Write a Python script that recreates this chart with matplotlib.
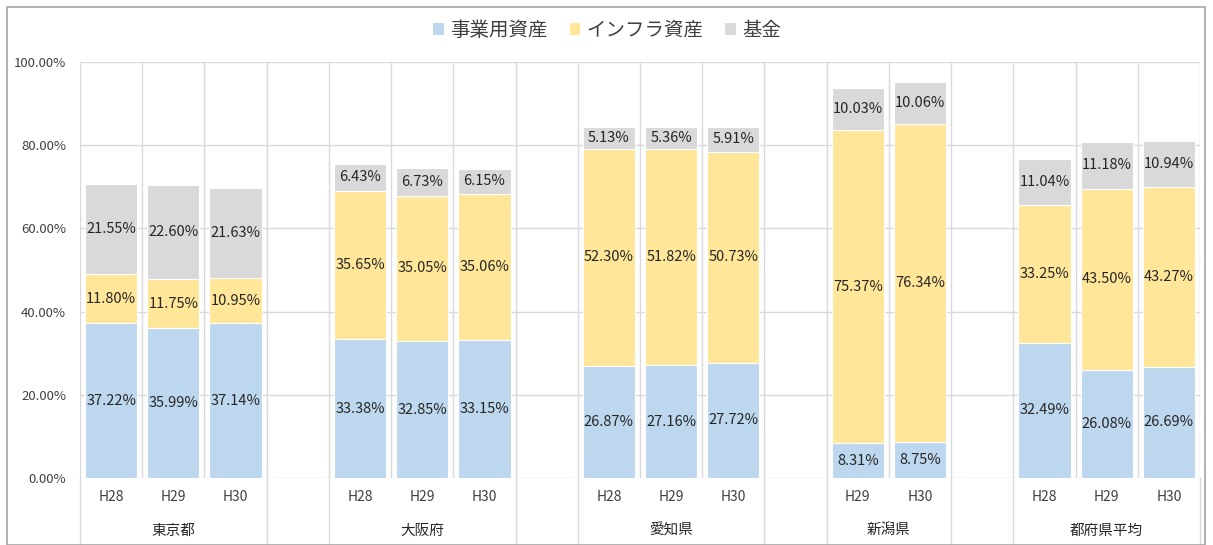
import matplotlib.pyplot as plt
from matplotlib.patches import Rectangle
from matplotlib.ticker import FuncFormatter

plt.rcParams['font.family'] = ['Noto Sans CJK JP', 'DejaVu Sans']

# groups (prefecture) and the years shown for each
groups = ["東京都", "大阪府", "愛知県", "新潟県", "都府県平均"]
years = [["H28", "H29", "H30"], ["H28", "H29", "H30"], ["H28", "H29", "H30"],
         ["H29", "H30"], ["H28", "H29", "H30"]]

# values in %, flattened in the same order as groups/years
business = [37.22, 35.99, 37.14, 33.38, 32.85, 33.15, 26.87, 27.16, 27.72,
            8.31, 8.75, 32.49, 26.08, 26.69]
infra = [11.80, 11.75, 10.95, 35.65, 35.05, 35.06, 52.30, 51.82, 50.73,
         75.37, 76.34, 33.25, 43.50, 43.27]
fund = [21.55, 22.60, 21.63, 6.43, 6.73, 6.15, 5.13, 5.36, 5.91,
        10.03, 10.06, 11.04, 11.18, 10.94]

series_names = ["事業用資産", "インフラ資産", "基金"]
colors = ["#BDD7EE", "#FFE699", "#D9D9D9"]
grid_c = "#D9D9D9"

# x positions: one empty slot between groups
xs, xlabels, group_spans = [], [], []
pos = 0
for g, ys in zip(groups, years):
    start = pos
    for y in ys:
        xs.append(pos)
        xlabels.append(y)
        pos += 1
    group_spans.append((start, pos - 1))
    pos += 1  # empty slot
nslots = pos - 1

fig = plt.figure(figsize=(12.13, 5.45), dpi=100)
ax = fig.add_axes([80 / 1213, 1 - 478 / 545, 1120 / 1213, 416 / 545])

bottoms = [0] * len(xs)
for vals, name, c in zip([business, infra, fund], series_names, colors):
    ax.bar(xs, vals, width=0.84, bottom=bottoms, color=c, edgecolor="white",
           linewidth=0.8, label=name, zorder=2)
    for x, b, v in zip(xs, bottoms, vals):
        ax.text(x, b + v / 2, f"{v:.2f}%", ha="center", va="center",
                fontsize=10.5, color="#262626", zorder=3)
    bottoms = [b + v for b, v in zip(bottoms, vals)]

ax.set_xlim(-0.5, nslots - 0.5)
ax.set_ylim(0, 100)
ax.set_yticks(range(0, 101, 20))
ax.yaxis.set_major_formatter(FuncFormatter(lambda v, p: f"{v:.2f}%"))
ax.tick_params(axis="y", length=0, labelsize=9.5, colors="#404040", pad=10)
ax.set_xticks([])
for s in ax.spines.values():
    s.set_visible(False)

for yv in range(0, 101, 20):
    ax.axhline(yv, color=grid_c, linewidth=1, zorder=1)
for i in range(nslots + 1):
    ax.axvline(-0.5 + i, color=grid_c, linewidth=1, zorder=1)

# category labels below the axis
trans = ax.get_xaxis_transform()
for x, lab in zip(xs, xlabels):
    ax.text(x, -0.046, lab, transform=trans, ha="center", va="center",
            fontsize=10, color="#404040")
bounds = set()
for g, (a, b) in zip(groups, group_spans):
    ax.text((a + b) / 2, -0.127, g, transform=trans, ha="center", va="center",
            fontsize=10.5, color="#262626")
    bounds.update([a - 0.5, b + 0.5, b + 1.5])
for bx in sorted(bounds):
    if bx <= nslots - 0.5:
        ax.plot([bx, bx], [0, -0.165], transform=trans, color=grid_c,
                linewidth=1, clip_on=False)

leg = fig.legend(loc="center", bbox_to_anchor=(0.5, 1 - 30 / 545), ncol=3,
                 frameon=False, fontsize=14, handlelength=0.6,
                 handleheight=0.6, handletextpad=0.3, columnspacing=1.1)
for t in leg.get_texts():
    t.set_color("#404040")

fig.patches.append(Rectangle((7 / 1213, 0), 1198 / 1213, 1 - 7 / 545,
                             transform=fig.transFigure, fill=False,
                             edgecolor="#A6A6A6", linewidth=1.2))

fig.savefig("out.png", dpi=100)
